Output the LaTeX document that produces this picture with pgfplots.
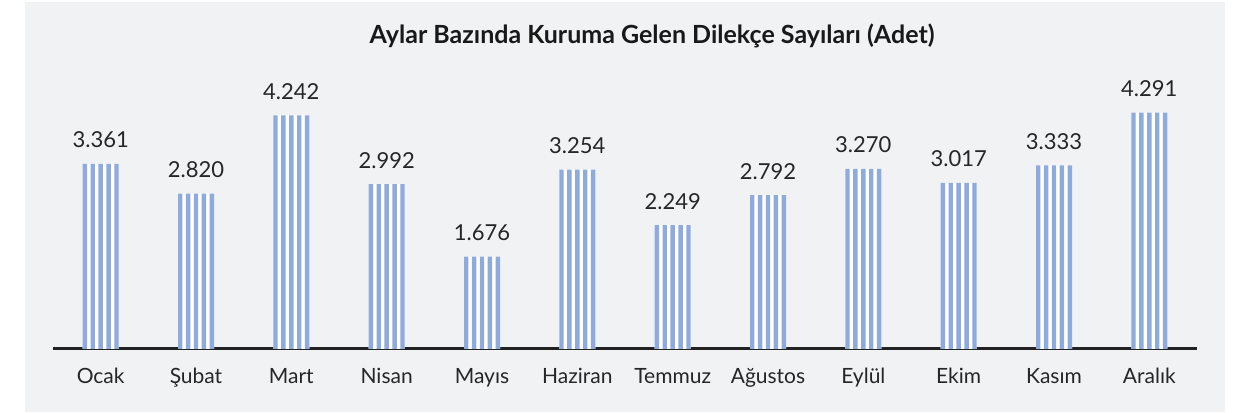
\documentclass[border=0pt]{standalone}
\usepackage{pgfplots}
\pgfplotsset{compat=1.18}
\usepackage{pgfplotstable}
\usepackage{fontspec}
\setmainfont{Lato}
\definecolor{bg}{RGB}{241,242,244}
\definecolor{stripe}{RGB}{143,170,220}
\definecolor{axisdark}{RGB}{34,34,34}
\pgfplotstableread{
x val lab
0 3361 3.361
1 2820 2.820
2 4242 4.242
3 2992 2.992
4 1676 1.676
5 3254 3.254
6 2249 2.249
7 2792 2.792
8 3270 3.270
9 3017 3.017
10 3333 3.333
11 4291 4.291
}\data
\begin{document}
\begin{tikzpicture}[x=1pt,y=1pt]
\path[fill=white] (0,0) rectangle (1233,412);
\fill[bg] (25,0) rectangle (1225,410);
\node[anchor=base,font=\fontsize{25}{29}\selectfont\bfseries, text=black!90] at (652,368) {Aylar Bazında Kuruma Gelen Dilekçe Sayıları (Adet)};
\begin{axis}[
  at={(53pt,63pt)}, anchor=south west,
  scale only axis, width=1144pt, height=275.5pt,
  xmin=-0.5, xmax=11.5, ymin=0, ymax=5000,
  axis x line*=bottom, axis y line=none,
  x axis line style={-, line width=3pt, color=axisdark},
  xtick=data, major tick length=0pt,
  xticklabels={Ocak,Şubat,Mart,Nisan,Mayıs,Haziran,Temmuz,Ağustos,Eylül,Ekim,Kasım,Aralık},
  xticklabel style={anchor=base, inner sep=0pt, yshift=-35pt, font=\fontsize{21}{25}\selectfont, text=black!85},
  clip=false,
]
\addplot[ybar, bar width=36pt, bar shift=0pt, fill=white, draw=none,
  point meta=explicit symbolic,
  nodes near coords, every node near coord/.style={anchor=base, inner sep=0pt, yshift=16pt, font=\fontsize{22}{26}\selectfont, text=black!85}]
  table[x=x, y=val, meta=lab] {\data};
\addplot[ybar, bar width=4.4pt, bar shift=-15.8pt, fill=stripe, draw=none] table[x=x, y=val] {\data};
\addplot[ybar, bar width=4.4pt, bar shift=-7.9pt, fill=stripe, draw=none] table[x=x, y=val] {\data};
\addplot[ybar, bar width=4.4pt, bar shift=0pt, fill=stripe, draw=none] table[x=x, y=val] {\data};
\addplot[ybar, bar width=4.4pt, bar shift=7.9pt, fill=stripe, draw=none] table[x=x, y=val] {\data};
\addplot[ybar, bar width=4.4pt, bar shift=15.8pt, fill=stripe, draw=none] table[x=x, y=val] {\data};
\end{axis}
\end{tikzpicture}
\end{document}
